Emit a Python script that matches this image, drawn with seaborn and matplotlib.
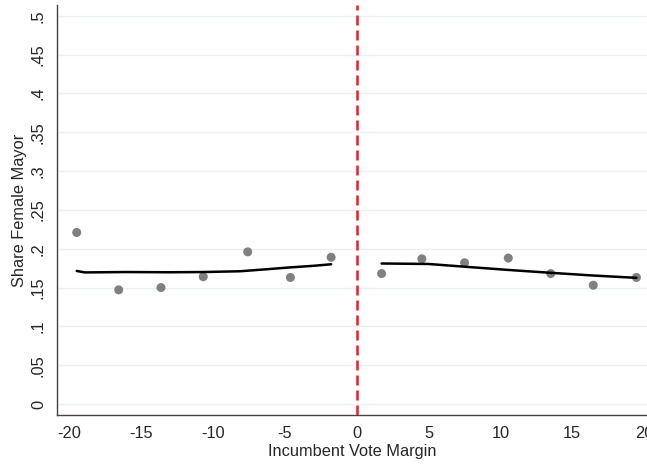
import numpy as np
import pandas as pd
import seaborn as sns
import matplotlib.pyplot as plt

# binned means
bin_x_left = [-19.46, -16.54, -13.6, -10.66, -7.57, -4.6, -1.77]
share_left = [0.221, 0.147, 0.150, 0.164, 0.196, 0.163, 0.189]
bin_x_right = [1.74, 4.54, 7.51, 10.55, 13.5, 16.46, 19.46]
share_right = [0.168, 0.187, 0.182, 0.188, 0.168, 0.153, 0.163]

# fitted lines
fit_x_left = [-19.46, -18.9, -16.0, -13.0, -10.66, -8.1, -6.3, -4.6, -3.0, -1.77]
fit_y_left = [0.1714, 0.1695, 0.1700, 0.1697, 0.1700, 0.1710, 0.1735, 0.1760, 0.1780, 0.1800]
fit_x_right = [1.74, 4.98, 7.77, 10.55, 13.5, 16.46, 19.46]
fit_y_right = [0.1810, 0.1804, 0.1765, 0.1727, 0.1690, 0.1655, 0.1625]

xticks = [-20, -15, -10, -5, 0, 5, 10, 15, 20]
yticks = [0, .05, .1, .15, .2, .25, .3, .35, .4, .45, .5]
ytick_labels = ["0", ".05", ".1", ".15", ".2", ".25", ".3", ".35", ".4", ".45", ".5"]

sns.set_style("white")
plt.rcParams['font.family'] = ['Liberation Sans', 'DejaVu Sans']

fig = plt.figure(figsize=(6.47, 4.67), dpi=100)
ax = fig.add_axes([0.0881, 0.1113, 0.912, 0.878])

for gy in yticks:
    ax.axhline(gy, color='#e8f0f2', linewidth=1, zorder=0)

pts = pd.DataFrame({'x': bin_x_left + bin_x_right, 'y': share_left + share_right})
sns.scatterplot(data=pts, x='x', y='y', color='#808080', s=42, edgecolor='none', ax=ax, zorder=3)

sns.lineplot(x=fit_x_left, y=fit_y_left, color='black', linewidth=1.8, ax=ax, zorder=4)
sns.lineplot(x=fit_x_right, y=fit_y_right, color='black', linewidth=1.8, ax=ax, zorder=4)

ax.axvline(0, color='#ee1c25', linestyle=(0, (4, 2)), linewidth=1.8, zorder=5)

ax.set_xlim(-20.83, 20.2)
ax.set_ylim(-0.0142, 0.514)
ax.set_xticks(xticks)
ax.set_xticklabels([str(t) for t in xticks], fontsize=11.8)
ax.set_yticks(yticks)
ax.set_yticklabels(ytick_labels, fontsize=11.8, rotation=90, va='center')
ax.tick_params(axis='both', direction='out', length=5, width=1, color='#444444', pad=3)

for side in ['top', 'right']:
    ax.spines[side].set_visible(False)
for side in ['left', 'bottom']:
    ax.spines[side].set_color('#444444')
    ax.spines[side].set_linewidth(1)

ax.set_xlabel('Incumbent Vote Margin', fontsize=11.8, labelpad=2)
ax.set_ylabel('Share Female Mayor', fontsize=11.8, labelpad=3)

fig.savefig('out.png', dpi=100)
